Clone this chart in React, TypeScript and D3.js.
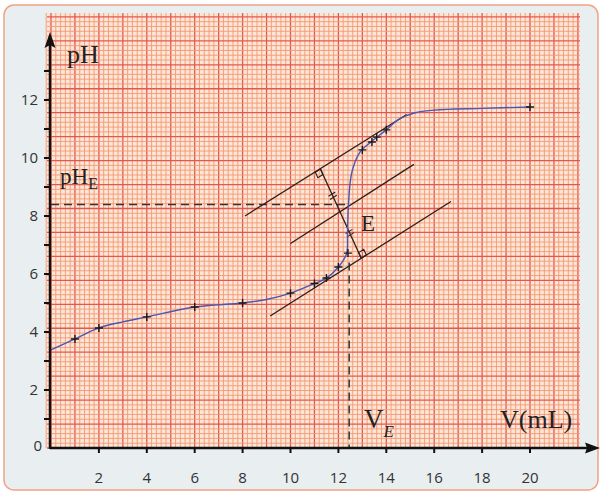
import React, { useEffect, useRef } from "react";
import * as d3 from "d3";

// measured points (crosses)
const pointV = [1, 2, 4, 6, 8, 10, 11, 11.5, 12, 12.4, 13, 13.4, 13.6, 14, 20];
const pointPH = [3.76, 4.14, 4.52, 4.86, 5.0, 5.34, 5.67, 5.86, 6.24, 6.72, 10.28, 10.55, 10.72, 10.97, 11.76];

// hand drawn curve
const curveV = [0, 1, 2, 3, 4, 6, 8, 9, 10, 11, 11.5, 12, 12.34, 12.38, 12.42, 12.56, 12.9, 13.4, 14, 14.5, 15.2, 16, 18, 20];
const curvePH = [3.38, 3.76, 4.14, 4.35, 4.52, 4.86, 5.0, 5.12, 5.34, 5.67, 5.86, 6.24, 6.7, 7.4, 8.4, 9.5, 10.2, 10.58, 10.97, 11.32, 11.56, 11.65, 11.71, 11.76];

// parallel tangents (V, pH)
const tangentTop = [[8.1, 8.0], [14.85, 11.5]];
const tangentMid = [[10.0, 7.05], [15.15, 9.78]];
const tangentBottom = [[9.15, 4.55], [16.7, 8.5]];
const perpendicular = [[11.25, 9.62], [12.95, 6.55]];

const vE = 12.45;
const pHE = 8.4;

const xTicks = [2, 4, 6, 8, 10, 12, 14, 16, 18, 20];
const yTicks = [1, 2, 3, 4, 5, 6, 7, 8, 9, 10, 11, 12, 13];
const yLabels = [0, 2, 4, 6, 8, 10, 12];

export default function App() {
  const svgRef = useRef<SVGSVGElement>(null);

  useEffect(() => {
    const width = 603;
    const height = 493;
    const svg = d3.select(svgRef.current).attr("width", width).attr("height", height);
    svg.selectAll("*").remove();

    const x = d3.scaleLinear().domain([0, 20]).range([51, 530]);
    const y = d3.scaleLinear().domain([0, 12]).range([448, 100]);

    // card
    svg.append("rect")
      .attr("x", 4).attr("y", 5).attr("width", 594).attr("height", 485)
      .attr("rx", 10)
      .attr("fill", "#e9eef0")
      .attr("stroke", "#eea486")
      .attr("stroke-width", 1.5);

    // graph paper
    const gl = 47, gr = 580, gt = 13, gb = y(0);
    svg.append("rect")
      .attr("x", gl).attr("y", gt).attr("width", gr - gl).attr("height", gb - gt)
      .attr("fill", "#fde5d8");

    const step = (x(20) - x(0)) / 100;
    const grid = svg.append("g");
    const vIdx = d3.range(-1, Math.floor((gr - x(0)) / step) + 1);
    const hIdx = d3.range(0, Math.floor((gb - gt) / step) + 1);

    grid.selectAll("line.v")
      .data(vIdx)
      .join("line")
      .attr("x1", (i) => x(0) + i * step)
      .attr("x2", (i) => x(0) + i * step)
      .attr("y1", gt).attr("y2", gb)
      .attr("stroke", (i) => (i % 5 === 0 ? "#e4584c" : "#f29a70"))
      .attr("stroke-width", (i) => (i % 5 === 0 ? 1.3 : 0.9));

    grid.selectAll("line.h")
      .data(hIdx)
      .join("line")
      .attr("y1", (i) => gb - i * step)
      .attr("y2", (i) => gb - i * step)
      .attr("x1", gl).attr("x2", gr)
      .attr("stroke", (i) => (i % 5 === 0 ? "#e4584c" : "#f29a70"))
      .attr("stroke-width", (i) => (i % 5 === 0 ? 1.3 : 0.9));

    // dashed construction lines
    svg.append("line")
      .attr("x1", x(0)).attr("x2", x(vE) - 3)
      .attr("y1", y(pHE)).attr("y2", y(pHE))
      .attr("stroke", "#333").attr("stroke-width", 1.5)
      .attr("stroke-dasharray", "8,5");
    svg.append("line")
      .attr("x1", x(vE)).attr("x2", x(vE))
      .attr("y1", y(6.4)).attr("y2", y(0))
      .attr("stroke", "#333").attr("stroke-width", 1.5)
      .attr("stroke-dasharray", "8,5");

    // tangents
    [tangentTop, tangentMid, tangentBottom, perpendicular].forEach((seg) => {
      svg.append("line")
        .attr("x1", x(seg[0][0])).attr("y1", y(seg[0][1]))
        .attr("x2", x(seg[1][0])).attr("y2", y(seg[1][1]))
        .attr("stroke", "#2a1f1f").attr("stroke-width", 1.3);
    });

    // right angle marks and equal-length marks
    const p0: [number, number] = [x(perpendicular[0][0]), y(perpendicular[0][1])];
    const p1: [number, number] = [x(perpendicular[1][0]), y(perpendicular[1][1])];
    const ux0 = x(tangentTop[1][0]) - x(tangentTop[0][0]);
    const uy0 = y(tangentTop[1][1]) - y(tangentTop[0][1]);
    const ul = Math.hypot(ux0, uy0);
    const u = [ux0 / ul, uy0 / ul];
    const wl = Math.hypot(p1[0] - p0[0], p1[1] - p0[1]);
    const w = [(p1[0] - p0[0]) / wl, (p1[1] - p0[1]) / wl];
    const s = 6;
    const sq1 = [
      p0,
      [p0[0] - s * u[0], p0[1] - s * u[1]],
      [p0[0] - s * u[0] + s * w[0], p0[1] - s * u[1] + s * w[1]],
      [p0[0] + s * w[0], p0[1] + s * w[1]],
    ];
    const sq2 = [
      p1,
      [p1[0] + s * u[0], p1[1] + s * u[1]],
      [p1[0] + s * u[0] - s * w[0], p1[1] + s * u[1] - s * w[1]],
      [p1[0] - s * w[0], p1[1] - s * w[1]],
    ];
    [sq1, sq2].forEach((sq) => {
      svg.append("path")
        .attr("d", d3.line()(sq as [number, number][]) + "Z")
        .attr("fill", "none").attr("stroke", "#2a1f1f").attr("stroke-width", 1.1);
    });
    [0.3, 0.72].forEach((t) => {
      const cx = p0[0] + t * (p1[0] - p0[0]);
      const cy = p0[1] + t * (p1[1] - p0[1]);
      [-1.8, 1.8].forEach((o) => {
        svg.append("line")
          .attr("x1", cx + o * w[0] - 4 * u[0]).attr("y1", cy + o * w[1] - 4 * u[1])
          .attr("x2", cx + o * w[0] + 4 * u[0]).attr("y2", cy + o * w[1] + 4 * u[1])
          .attr("stroke", "#2a1f1f").attr("stroke-width", 1.1);
      });
    });

    // curve
    const line = d3.line<number>()
      .x((d, i) => x(curveV[i]))
      .y((d) => y(d))
      .curve(d3.curveCatmullRom.alpha(0.5));
    svg.append("path")
      .datum(curvePH)
      .attr("d", line)
      .attr("fill", "none")
      .attr("stroke", "#4b57b3")
      .attr("stroke-width", 1.4);

    // crosses
    svg.selectAll("path.pt")
      .data(pointPH)
      .join("path")
      .attr("d", (d, i) => {
        const px = x(pointV[i]);
        const py = y(d);
        return `M${px - 4},${py}H${px + 4}M${px},${py - 4}V${py + 4}`;
      })
      .attr("stroke", "#1a1a1a")
      .attr("stroke-width", 1.4);

    // axes
    const axisColor = "#111";
    svg.append("line")
      .attr("x1", x(0) - 1).attr("x2", 588)
      .attr("y1", y(0)).attr("y2", y(0))
      .attr("stroke", axisColor).attr("stroke-width", 2.5);
    svg.append("path")
      .attr("d", `M600,${y(0)}L585,${y(0) - 5.5}L587,${y(0)}L585,${y(0) + 5.5}Z`)
      .attr("fill", axisColor);
    svg.append("line")
      .attr("x1", x(0) - 1).attr("x2", x(0) - 1)
      .attr("y1", y(0) + 1).attr("y2", 44)
      .attr("stroke", axisColor).attr("stroke-width", 2.5);
    svg.append("path")
      .attr("d", `M${x(0) - 1},32L${x(0) - 6.5},48L${x(0) - 1},45L${x(0) + 4.5},48Z`)
      .attr("fill", axisColor);

    svg.selectAll("line.xt")
      .data(xTicks)
      .join("line")
      .attr("x1", (d) => x(d)).attr("x2", (d) => x(d))
      .attr("y1", y(0)).attr("y2", y(0) + 5)
      .attr("stroke", axisColor).attr("stroke-width", 2);
    svg.selectAll("line.yt")
      .data(yTicks)
      .join("line")
      .attr("x1", x(0) - 7).attr("x2", x(0))
      .attr("y1", (d) => y(d)).attr("y2", (d) => y(d))
      .attr("stroke", axisColor).attr("stroke-width", 2);

    const sans = "'Open Sans', 'DejaVu Sans', sans-serif";
    svg.selectAll("text.xl")
      .data(xTicks)
      .join("text")
      .attr("x", (d) => x(d))
      .attr("y", 483)
      .attr("text-anchor", "middle")
      .attr("font-family", sans)
      .attr("font-size", 15)
      .attr("fill", "#333")
      .text((d) => d);
    svg.selectAll("text.yl")
      .data(yLabels)
      .join("text")
      .attr("x", (d) => (d === 0 ? 42 : 38))
      .attr("y", (d) => (d === 0 ? y(d) - 2 : y(d)))
      .attr("dy", "0.36em")
      .attr("text-anchor", "end")
      .attr("font-family", sans)
      .attr("font-size", 15)
      .attr("fill", "#333")
      .text((d) => d);

    // serif labels
    const serif = "'Liberation Serif', 'DejaVu Serif', serif";
    const label = (tx: number, ty: number, size: number) =>
      svg.append("text")
        .attr("x", tx).attr("y", ty)
        .attr("font-family", serif)
        .attr("font-size", size)
        .attr("fill", "#222");

    label(67, 63, 26).text("pH");
    const phe = label(60, 184, 23);
    phe.append("tspan").text("pH");
    phe.append("tspan").attr("font-size", 16).attr("dy", 5).text("E");
    label(361, 231, 23).text("E");
    const ve = label(364, 428, 27);
    ve.append("tspan").text("V");
    ve.append("tspan").attr("font-size", 17).attr("font-style", "italic").attr("dy", 9).text("E");
    label(500, 428, 26).text("V(mL)");
  }, []);

  return (
    <div style={{ position: "absolute", left: 0, top: 0, background: "#fff" }}>
      <svg ref={svgRef} style={{ display: "block" }}></svg>
    </div>
  );
}
